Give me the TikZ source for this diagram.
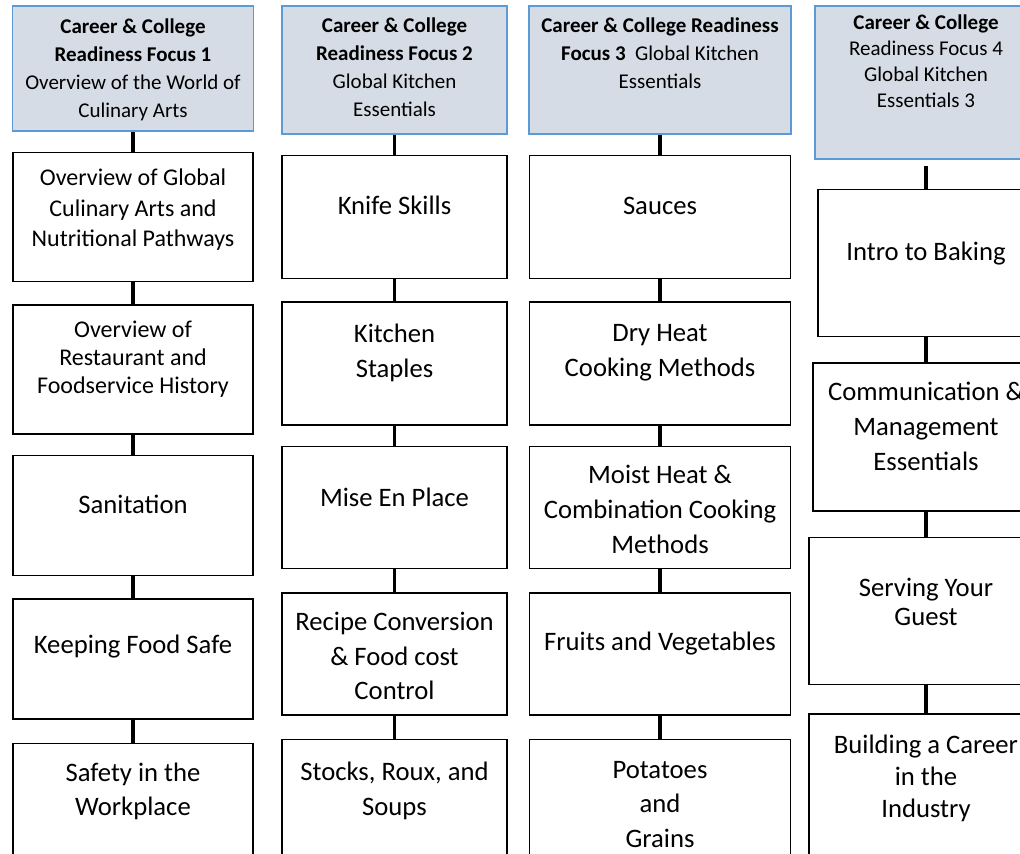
\documentclass[tikz,border=0pt]{standalone}
\usepackage{fontspec}
\setmainfont{Carlito}
\usetikzlibrary{positioning}
\definecolor{focusblue}{HTML}{5B9BD5}
\definecolor{focusfill}{HTML}{D6DCE5}

\begin{document}
\begin{tikzpicture}[x=0.75pt,y=-0.75pt,
    focus/.style={draw=focusblue,fill=focusfill,line width=1.3pt},
    topic/.style={draw,line width=1.1pt},
    link/.style={line width=2.4pt},
    lbl/.style={yshift=#1,align=center,inner sep=0pt,
                font=\fontsize{20}{26}\selectfont},
    lbl/.default=8pt,
    hdr/.style={yshift=#1,align=center,inner sep=0pt,
                font=\fontsize{15.75}{21}\selectfont},
    hdr/.default=0pt]

  \useasboundingbox (0,0) rectangle (1020,853);

  % focus headers
  \node[focus,minimum width=180.75pt,minimum height=93.75pt,
        label={[hdr=-1pt]center:{\textbf{Career \& College}\\\textbf{Readiness Focus 1}\\Overview of the World of\\Culinary Arts}}]
        (F1) at (133,68.5) {};
  \node[focus,minimum width=168.75pt,minimum height=96pt,
        label={[hdr=2pt]center:{\textbf{Career \& College}\\\textbf{Readiness Focus 2}\\Global Kitchen\\Essentials}}]
        (F2) at (394.5,70) {};
  \node[focus,minimum width=196.5pt,minimum height=96pt,
        label={[hdr=12.5pt]center:{\textbf{Career \& College Readiness}\\\textbf{Focus 3}\ \ Global Kitchen\\Essentials}}]
        (F3) at (660,70) {};
  \node[focus,minimum width=166.5pt,minimum height=114.75pt,
        label={[hdr=16pt,font=\fontsize{15.75}{19.5}\selectfont]center:{\textbf{Career \& College}\\Readiness Focus 4\\Global Kitchen\\Essentials 3}}]
        (F4) at (926,82.5) {};

  % column 1
  \node[topic,minimum width=180pt,minimum height=96.75pt,below=15pt of F1,
        label={[lbl=5.5pt,font=\fontsize{18}{23}\selectfont]center:{Overview of Global\\Culinary Arts and\\Nutritional Pathways}}] (c1b1) {};
  \node[topic,minimum width=180pt,minimum height=96.75pt,below=16.5pt of c1b1,
        label={[lbl=7.5pt,font=\fontsize{18}{21}\selectfont]center:{Overview of\\Restaurant and\\Foodservice History}}] (c1b2) {};
  \node[topic,minimum width=180pt,minimum height=90pt,below=15pt of c1b2,
        label={[lbl]center:Sanitation}] (c1b3) {};
  \node[topic,minimum width=180pt,minimum height=90pt,below=16.5pt of c1b3,
        label={[lbl=9pt]center:Keeping Food Safe}] (c1b4) {};
  \node[topic,minimum width=180pt,minimum height=90pt,below=17.25pt of c1b4,
        label={[lbl=9pt]center:{Safety in the\\Workplace}}] (c1b5) {};

  % column 2
  \node[topic,minimum width=168.75pt,minimum height=92.25pt,below=15pt of F2,
        label={[lbl=9pt]center:Knife Skills}] (c2b1) {};
  \node[topic,minimum width=168.75pt,minimum height=92.25pt,below=16.5pt of c2b1,
        label={[lbl]center:{Kitchen\\Staples}}] (c2b2) {};
  \node[topic,minimum width=168.75pt,minimum height=91.5pt,below=15pt of c2b2,
        label={[lbl]center:Mise En Place}] (c2b3) {};
  \node[topic,minimum width=168.75pt,minimum height=91.5pt,below=17.25pt of c2b3,
        label={[lbl=-1.5pt]center:{Recipe Conversion\\\& Food cost\\Control}}] (c2b4) {};
  \node[topic,minimum width=168.75pt,minimum height=91.5pt,below=17.25pt of c2b4,
        label={[lbl=7pt]center:{Stocks, Roux, and\\Soups}}] (c2b5) {};

  % column 3
  \node[topic,minimum width=196pt,minimum height=92.25pt,below=15pt of F3,
        label={[lbl]center:Sauces}] (c3b1) {};
  \node[topic,minimum width=196pt,minimum height=92.25pt,below=16.5pt of c3b1,
        label={[lbl]center:{Dry Heat\\Cooking Methods}}] (c3b2) {};
  \node[topic,minimum width=196pt,minimum height=91.5pt,below=15pt of c3b2,
        label={[lbl=-1.5pt]center:{Moist Heat \&\\Combination Cooking\\Methods}}] (c3b3) {};
  \node[topic,minimum width=196pt,minimum height=91.5pt,below=17.25pt of c3b3,
        label={[lbl]center:Fruits and Vegetables}] (c3b4) {};
  \node[topic,minimum width=196pt,minimum height=91.5pt,below=17.25pt of c3b4,
        label={[lbl=-3pt]center:{Potatoes\\and\\Grains}}] (c3b5) {};

  % column 4
  \node[topic,minimum width=162pt,minimum height=110.25pt,below=21.75pt of F4,
        label={[lbl=7pt]center:Intro to Baking}] (c4b1) {};
  \node[topic,minimum width=169.5pt,minimum height=111pt,below=18.75pt of c4b1,
        label={[lbl]center:{Communication \&\\Management\\Essentials}}] (c4b2) {};
  \node[topic,minimum width=175.5pt,minimum height=110.25pt,below=18.75pt of c4b2,
        label={[lbl=7pt,font=\fontsize{20}{22}\selectfont]center:{Serving Your\\Guest}}] (c4b3) {};
  \node[topic,minimum width=175.5pt,minimum height=110.25pt,below=21pt of c4b3,
        label={[lbl=6.5pt,font=\fontsize{20}{24}\selectfont]center:{Building a Career\\in the\\Industry}}] (c4b4) {};

  \path[link] (F1) edge (c1b1) (c1b1) edge (c1b2) (c1b2) edge (c1b3)
                   (c1b3) edge (c1b4) (c1b4) edge (c1b5)
              (F2) edge (c2b1) (c2b1) edge (c2b2) (c2b2) edge (c2b3)
                   (c2b3) edge (c2b4) (c2b4) edge (c2b5)
              (F3) edge (c3b1) (c3b1) edge (c3b2) (c3b2) edge (c3b3)
                   (c3b3) edge (c3b4) (c3b4) edge (c3b5)
              (F4) edge [shorten <=4.5pt] (c4b1) (c4b1) edge (c4b2)
                   (c4b2) edge (c4b3) (c4b3) edge (c4b4);
\end{tikzpicture}
\end{document}
